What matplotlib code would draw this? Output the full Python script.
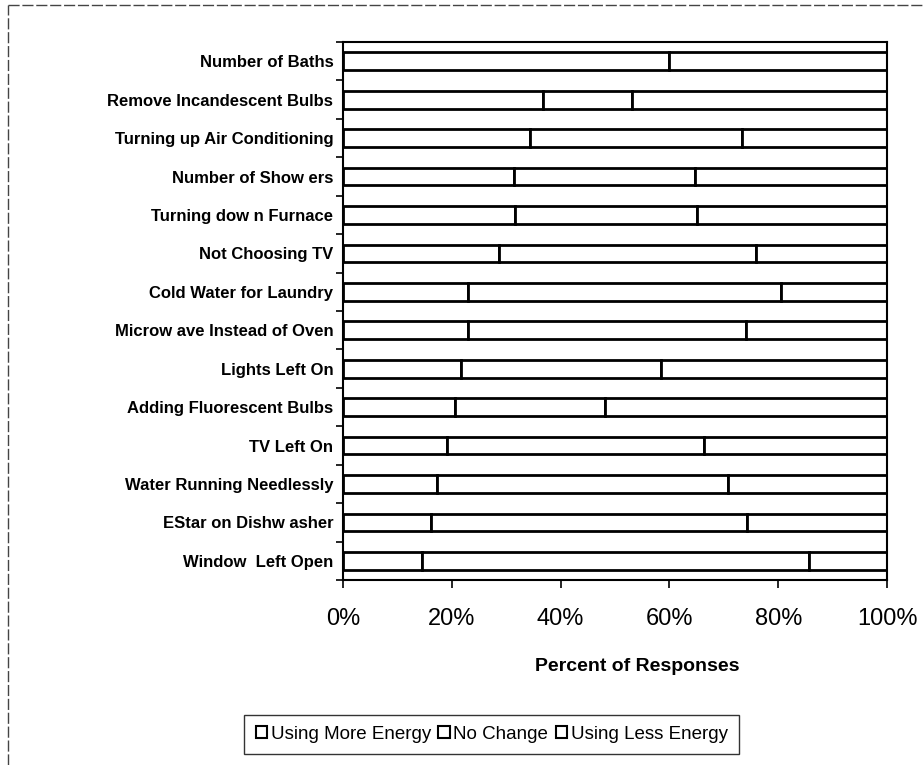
import matplotlib.pyplot as plt
from matplotlib.patches import Rectangle
from matplotlib.lines import Line2D
import numpy as np

plt.rcParams['font.family'] = ['Liberation Sans', 'DejaVu Sans']

# categories, top to bottom as in the chart
categories = [
    "Number of Baths",
    "Remove Incandescent Bulbs",
    "Turning up Air Conditioning",
    "Number of Show ers",
    "Turning dow n Furnace",
    "Not Choosing TV",
    "Cold Water for Laundry",
    "Microw ave Instead of Oven",
    "Lights Left On",
    "Adding Fluorescent Bulbs",
    "TV Left On",
    "Water Running Needlessly",
    "EStar on Dishw asher",
    "Window  Left Open",
]
# percent of responses
more_energy = [60, 36.7, 34.3, 31.5, 31.6, 28.6, 23.0, 23.0, 21.6, 20.5, 19.2, 17.2, 16.2, 14.5]
no_change = [40, 16.5, 39.1, 33.2, 33.4, 47.4, 57.5, 51.0, 36.9, 27.7, 47.1, 53.5, 58.0, 71.1]
less_energy = [0, 46.8, 26.6, 35.3, 35.0, 24.0, 19.5, 26.0, 41.5, 51.8, 33.7, 29.3, 25.8, 14.4]
series_names = ["Using More Energy", "No Change", "Using Less Energy"]

fig = plt.figure(figsize=(9.24, 7.65), dpi=100)
ax = fig.add_axes([0.3712, 0.2418, 0.5888, 0.7032])

y = np.arange(len(categories))[::-1]
left = np.zeros(len(categories))
for vals in (more_energy, no_change, less_energy):
    ax.barh(y, vals, left=left, height=0.46, color='white',
            edgecolor='black', linewidth=2.0)
    left += np.array(vals)

ax.set_xlim(0, 100)
ax.set_ylim(-0.5, len(categories) - 0.5)
ax.set_xticks([0, 20, 40, 60, 80, 100])
ax.set_xticklabels(['0%', '20%', '40%', '60%', '80%', '100%'], fontsize=17)
ax.set_yticks(y)
ax.set_yticklabels(categories, fontsize=12, fontweight='bold')
ax.tick_params(axis='y', length=0, pad=7)
ax.tick_params(axis='x', length=6, width=1.2, direction='out', pad=14)

# category boundary ticks on the left axis
ax.set_yticks(np.arange(-0.5, len(categories), 1), minor=True)
ax.tick_params(axis='y', which='minor', length=5, width=1.2, direction='out')

for s in ax.spines.values():
    s.set_linewidth(1.5)

ax.set_xlabel('Percent of Responses', fontsize=14, fontweight='bold')
ax.xaxis.set_label_coords(0.54, -0.145)

handles = [Rectangle((0, 0), 1, 1, facecolor='white', edgecolor='black', linewidth=1.5)
           for _ in series_names]
leg = fig.legend(handles, series_names, loc='center', bbox_to_anchor=(0.532, 0.04),
                 ncol=3, fontsize=13.5, frameon=True, fancybox=False,
                 handlelength=0.6, handleheight=0.6, handletextpad=0.2,
                 columnspacing=0.4, borderpad=0.6)
leg.get_frame().set_edgecolor('black')
leg.get_frame().set_linewidth(1.0)

# outer chart border (partly visible in the scan)
fig.add_artist(Line2D([0.009, 1.0], [0.993, 0.993], transform=fig.transFigure,
                      color='#444444', linewidth=1.0, linestyle=(0, (8, 2))))
fig.add_artist(Line2D([0.009, 0.009], [0.0, 0.993], transform=fig.transFigure,
                      color='#444444', linewidth=1.0, linestyle=(0, (8, 2))))

fig.savefig('out.png', dpi=100)
